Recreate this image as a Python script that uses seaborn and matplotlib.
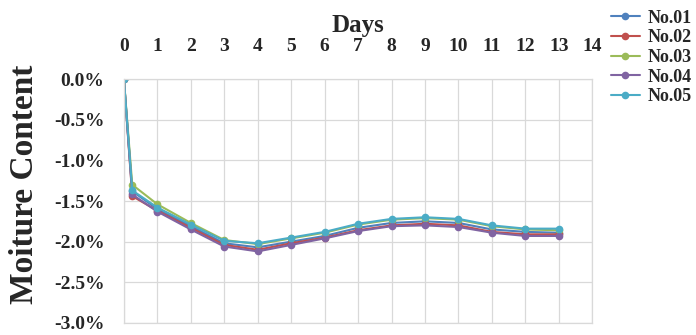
import numpy as np
import pandas as pd
import matplotlib
matplotlib.use("Agg")
import matplotlib.pyplot as plt
import seaborn as sns
from matplotlib.ticker import PercentFormatter

# days of drying (second sample taken a few hours after start)
days = [0, 0.25, 1, 2, 3, 4, 5, 6, 7, 8, 9, 10, 11, 12, 13]
samples = ["No.01", "No.02", "No.03", "No.04", "No.05"]
# moisture content change (%)
no01 = [0, -1.38, -1.60, -1.81, -2.02, -2.07, -2.00, -1.93, -1.83, -1.77, -1.75, -1.77, -1.85, -1.88, -1.89]
no02 = [0, -1.44, -1.62, -1.83, -2.04, -2.10, -2.02, -1.95, -1.86, -1.80, -1.78, -1.80, -1.88, -1.91, -1.91]
no03 = [0, -1.30, -1.54, -1.77, -1.98, -2.03, -1.96, -1.89, -1.79, -1.73, -1.71, -1.73, -1.81, -1.85, -1.86]
no04 = [0, -1.42, -1.63, -1.85, -2.06, -2.12, -2.04, -1.96, -1.87, -1.81, -1.80, -1.82, -1.89, -1.93, -1.93]
no05 = [0, -1.37, -1.58, -1.79, -1.99, -2.02, -1.95, -1.88, -1.78, -1.72, -1.70, -1.72, -1.80, -1.84, -1.84]
colours = ["#4F81BD", "#C0504D", "#9BBB59", "#8064A2", "#4BACC6"]

rows = []
for name, vals in zip(samples, [no01, no02, no03, no04, no05]):
    for d, v in zip(days, vals):
        rows.append({"Days": d, "Moisture": v, "Sample": name})
df = pd.DataFrame(rows)

sns.set_style("whitegrid")
plt.rcParams['font.family'] = ['Liberation Serif', 'DejaVu Serif']
plt.rcParams['font.weight'] = 'bold'
plt.rcParams['axes.unicode_minus'] = False

fig = plt.figure(figsize=(6.96, 3.35), dpi=100)
ax = fig.add_axes([0.178, 0.036, 0.673, 0.728])

sns.lineplot(data=df, x="Days", y="Moisture", hue="Sample", palette=colours,
             marker="o", markersize=5.5, markeredgewidth=0, linewidth=1.5, ax=ax)

ax.set_xlim(0, 14)
ax.set_ylim(-3.0, 0.0)
ax.set_xticks(range(0, 15))
ax.set_yticks(np.arange(-3.0, 0.01, 0.5))
ax.yaxis.set_major_formatter(PercentFormatter(decimals=1))
ax.xaxis.tick_top()
ax.xaxis.set_label_position("top")
ax.tick_params(axis="x", length=0, labelsize=14, pad=17)
ax.tick_params(axis="y", length=0, labelsize=14, pad=14)
for lab in ax.get_xticklabels() + ax.get_yticklabels():
    lab.set_fontweight("bold")
ax.set_xlabel("Days", fontsize=18, fontweight="bold", labelpad=5)
ax.set_ylabel("Moiture Content", fontsize=24, fontweight="bold")
ax.yaxis.set_label_coords(-0.18, 0.57)
ax.grid(True, color="#D9D9D9", linewidth=0.9)
for s in ax.spines.values():
    s.set_color("#D9D9D9")
    s.set_linewidth(0.9)
ax.set_axisbelow(True)

handles, labels = ax.get_legend_handles_labels()
ax.legend(handles, labels, loc="upper left", bbox_to_anchor=(1.04, 1.285),
          frameon=False, prop={"weight": "bold", "size": 13},
          handlelength=1.6, handletextpad=0.4, labelspacing=0.15,
          borderpad=0, borderaxespad=0)

fig.savefig("out.png", dpi=100)
